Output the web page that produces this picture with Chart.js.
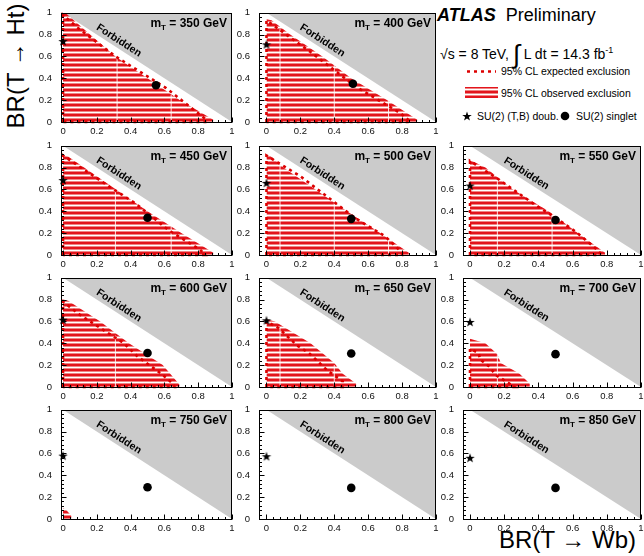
<!DOCTYPE html>
<html>
<head>
<meta charset="utf-8">
<script src="https://cdn.jsdelivr.net/npm/chart.js@4.4.0/dist/chart.umd.min.js"></script>
<style>
body { margin:0; background:#fff; width:644px; height:556px; overflow:hidden; position:relative; font-family:"Liberation Sans", Arial, sans-serif; }
canvas.panel { position:absolute; }
.t { position:absolute; white-space:nowrap; color:#000; line-height:1; }
</style>
</head>
<body>
<div class="t" style="left:16px;top:66px;font-size:24px;transform:translate(-50%,-50%) rotate(-90deg)">BR(T &#8594; Ht)</div>
<div class="t" style="left:636px;top:540px;font-size:24px;transform:translate(-100%,-50%)">BR(T &#8594; Wb)</div>

<div class="t" style="left:437px;top:6px;font-size:18px"><b><i>ATLAS</i></b>&nbsp; Preliminary</div>
<div class="t" style="left:440px;top:37px;font-size:14px">&#8730;s = 8 TeV, <span style="font-size:26px;position:relative;top:4px">&#8747;</span> L dt = 14.3 fb<sup style="font-size:9px">-1</sup></div>
<div class="t" style="left:501px;top:66px;font-size:10.5px">95% CL expected exclusion</div>
<div class="t" style="left:501px;top:88px;font-size:10.5px">95% CL observed exclusion</div>
<div class="t" style="left:477px;top:111px;font-size:10.5px">SU(2) (T,B) doub.</div>
<div class="t" style="left:576px;top:111px;font-size:10.5px">SU(2) singlet</div>
<canvas id="leg" width="180" height="130" style="position:absolute;left:440px;top:0px"></canvas>

<script>
// masses and benchmark points
const masses = [350, 400, 450, 500, 550, 600, 650, 700, 750, 800, 850];
const doubletY = [0.74, 0.71, 0.685, 0.66, 0.635, 0.615, 0.61, 0.595, 0.58, 0.574, 0.56];
const singletX = [0.55, 0.51, 0.5, 0.5, 0.5, 0.5, 0.5, 0.5, 0.5, 0.5, 0.5];
const singletY = [0.336, 0.35, 0.34, 0.33, 0.32, 0.31, 0.306, 0.30, 0.29, 0.284, 0.284];

// observed exclusion edge, from top of x=0 down to y=0
const obs350 = [[0,0.99],[0.02,0.99],[0.16,0.8],[0.31,0.6],[0.5,0.4],[0.69,0.2],[0.89,0.02],[0.89,0]];
const obs400 = [[0,0.94],[0.03,0.93],[0.14,0.8],[0.33,0.6],[0.5,0.4],[0.71,0.2],[0.89,0.02],[0.89,0]];
const obs450 = [[0,0.91],[0.03,0.9],[0.2,0.72],[0.5,0.4],[0.7,0.2],[0.89,0.02],[0.89,0]];
const obs500 = [[0,0.92],[0.02,0.91],[0.1,0.8],[0.475,0.4],[0.67,0.2],[0.84,0.02],[0.84,0]];
const obs550 = [[0,0.87],[0.09,0.8],[0.25,0.6],[0.46,0.4],[0.63,0.2],[0.79,0.02],[0.79,0]];
const obs600 = [[0,0.8],[0.03,0.79],[0.22,0.6],[0.39,0.4],[0.59,0.2],[0.69,0.02],[0.69,0]];
const obs650 = [[0,0.62],[0.05,0.6],[0.26,0.4],[0.4,0.22],[0.45,0.12],[0.53,0.03],[0.53,0]];
const obs700 = [[0,0.44],[0.09,0.4],[0.16,0.3],[0.18,0.22],[0.29,0.12],[0.35,0.03],[0.35,0]];
const obs750 = [[0,0.1],[0.02,0.08],[0.05,0.03],[0.05,0]];

// expected exclusion contour (closed)
const exp350 = [[0,0],[0,0.98],[0.08,0.87],[0.31,0.6],[0.61,0.31],[0.84,0.03],[0.85,0],[0,0]];
const exp400 = [[0,0],[0,0.93],[0.26,0.64],[0.53,0.32],[0.79,0.08],[0.85,0],[0,0]];
const exp450 = [[0,0],[0,0.91],[0.26,0.64],[0.43,0.47],[0.63,0.22],[0.81,0.05],[0.84,0],[0,0]];
const exp500 = [[0,0],[0,0.91],[0.2,0.72],[0.42,0.46],[0.53,0.33],[0.7,0.17],[0.8,0.02],[0.8,0],[0,0]];
const exp550 = [[0,0],[0,0.86],[0.02,0.84],[0.16,0.7],[0.37,0.47],[0.5,0.34],[0.62,0.21],[0.72,0.08],[0.76,0.02],[0.76,0],[0,0]];
const exp600 = [[0,0],[0,0.78],[0.1,0.66],[0.22,0.54],[0.36,0.4],[0.44,0.28],[0.59,0.11],[0.65,0.03],[0.66,0],[0,0]];
const exp650 = [[0,0],[0,0.6],[0.07,0.54],[0.18,0.38],[0.25,0.31],[0.36,0.15],[0.45,0.05],[0.45,0],[0,0]];
const exp700 = [[0,0],[0,0.35],[0.05,0.31],[0.06,0.25],[0.11,0.19],[0.15,0.11],[0.22,0.04],[0.26,0],[0,0]];

// white seams inside the hatched area: [x, top]
const seam350 = [[0.32,0.59],[0.64,0.25]];
const seam400 = [[0.08,0.85],[0.4,0.52],[0.72,0.19]];
const seam450 = [[0.31,0.6],[0.64,0.26]];
const seam500 = [[0.08,0.84],[0.4,0.48],[0.72,0.14]];
const seam550 = [[0.16,0.68],[0.48,0.37]];
const seam600 = [[0.31,0.47]];
const seam650 = [[0.08,0.54],[0.4,0.2]];
const seam700 = [[0.16,0.3]];

const observed = [obs350, obs400, obs450, obs500, obs550, obs600, obs650, obs700, obs750, [], []];
const expected = [exp350, exp400, exp450, exp500, exp550, exp600, exp650, exp700, [], [], []];
const seams = [seam350, seam400, seam450, seam500, seam550, seam600, seam650, seam700, [], [], []];

const tickVals = [0, 0.2, 0.4, 0.6, 0.8, 1];
const minorVals = [0.04,0.08,0.12,0.16,0.24,0.28,0.32,0.36,0.44,0.48,0.52,0.56,0.64,0.68,0.72,0.76,0.84,0.88,0.92,0.96];

// layout
const grid = [[0,0],[0,1],[1,0],[1,1],[1,2],[2,0],[2,1],[2,2],[3,0],[3,1],[3,2]];
const colLeft = [61, 259, 463];
const colW = [171, 177, 178];
const colXmin = [-0.012, -0.044, -0.041];
const rowTop = [6, 139, 271, 403];
const areaH = 117;
const padL = 34, padT = 8, padR = 6, padB = 16;

const RED = '#dd0000';
const GRAY = '#cbcbcb';
const FONT = '"Liberation Sans", Arial, sans-serif';

function hatch() {
    const c = document.createElement('canvas');
    c.width = 4; c.height = 5;
    const g = c.getContext('2d');
    g.fillStyle = '#ef8585'; g.fillRect(0, 0, 4, 5);
    g.fillStyle = '#e3141c'; g.fillRect(0, 1, 4, 2);
    g.fillStyle = '#ffffff'; g.fillRect(0, 4, 4, 1);
    return g.createPattern(c, 'repeat');
}

function starImg(r) {
    const s = Math.ceil(r * 2 + 2);
    const c = document.createElement('canvas');
    c.width = s; c.height = s;
    const g = c.getContext('2d');
    g.translate(s / 2, s / 2 + 0.5);
    g.beginPath();
    for (let i = 0; i < 10; i++) {
        const rr = i % 2 ? r * 0.4 : r;
        const a = -Math.PI / 2 + i * Math.PI / 5;
        g.lineTo(rr * Math.cos(a), rr * Math.sin(a));
    }
    g.closePath();
    g.fillStyle = '#000';
    g.fill();
    return c;
}
const STAR = starImg(5);

const pts = arr => arr.map(p => ({x: p[0], y: p[1]}));

const decor = {
    id: 'decor',
    afterDraw(chart, args, opts) {
        const {ctx, chartArea: a, scales: {x, y}} = chart;
        ctx.save();
        // Forbidden label along the diagonal
        const ang = Math.atan2(y.getPixelForValue(0) - y.getPixelForValue(1), x.getPixelForValue(1) - x.getPixelForValue(0));
        ctx.translate(x.getPixelForValue(0.33), y.getPixelForValue(0.745));
        ctx.rotate(ang);
        ctx.font = 'bold 10.5px ' + FONT;
        ctx.fillStyle = '#000';
        ctx.textAlign = 'center';
        ctx.textBaseline = 'middle';
        ctx.fillText('Forbidden', 0, 0);
        ctx.restore();

        // mass title
        ctx.save();
        ctx.fillStyle = '#000';
        ctx.textBaseline = 'alphabetic';
        const big = 'bold 12px ' + FONT, small = 'bold 8px ' + FONT;
        const rest = ' = ' + opts.mass + ' GeV';
        ctx.font = big; const w1 = ctx.measureText('m').width, w3 = ctx.measureText(rest).width;
        ctx.font = small; const w2 = ctx.measureText('T').width;
        let px = a.right - 5 - (w1 + w2 + w3);
        const base = a.top + 14;
        ctx.font = big; ctx.fillText('m', px, base); px += w1;
        ctx.font = small; ctx.fillText('T', px, base + 3); px += w2;
        ctx.font = big; ctx.fillText(rest, px, base);

        // frame and inner ticks
        ctx.strokeStyle = '#000';
        ctx.lineWidth = 1;
        ctx.beginPath();
        const L = Math.round(a.left) + 0.5, B = Math.round(a.bottom) - 0.5;
        tickVals.concat(minorVals).forEach(v => {
            const len = tickVals.includes(v) ? 5 : 2.5;
            const tx = Math.round(x.getPixelForValue(v)) + 0.5;
            ctx.moveTo(tx, B); ctx.lineTo(tx, B - len);
            const ty = Math.round(y.getPixelForValue(v)) + 0.5;
            ctx.moveTo(L, ty); ctx.lineTo(L + len, ty);
        });
        ctx.stroke();
        ctx.strokeRect(L, Math.round(a.top) + 0.5, Math.round(a.right) - L - 0.5, B - Math.round(a.top) - 0.5);
        ctx.restore();
    }
};

const pattern = hatch();

masses.forEach((m, i) => {
    const [r, c] = grid[i];
    const W = padL + colW[c] + padR, H = padT + areaH + padB;
    const cv = document.createElement('canvas');
    cv.className = 'panel';
    cv.width = W; cv.height = H;
    cv.style.left = (colLeft[c] - padL) + 'px';
    cv.style.top = (rowTop[r] - padT) + 'px';
    document.body.appendChild(cv);

    const datasets = [
        { label: 'doublet', data: [{x: 0, y: doubletY[i]}], showLine: false, pointStyle: STAR, pointRadius: 5, clip: false, order: 1 },
        { label: 'singlet', data: [{x: singletX[i], y: singletY[i]}], showLine: false, pointStyle: 'circle', pointRadius: 4.3, backgroundColor: '#000', borderColor: '#000', borderWidth: 0, clip: false, order: 1 },
        { label: 'expected', data: pts(expected[i]), borderColor: RED, borderWidth: 2.6, borderDash: [3, 4], pointRadius: 0, fill: false, clip: false, order: 2 },
        { label: 'forbidden', data: [{x: 0, y: 1}, {x: 1, y: 0}], borderColor: GRAY, borderWidth: 0, pointRadius: 0, fill: 'end', backgroundColor: GRAY, order: 6 },
        { label: 'observed', data: pts(observed[i]), borderWidth: 0, borderColor: 'rgba(0,0,0,0)', pointRadius: 0, fill: 'origin', backgroundColor: pattern, order: 5 }
    ];
    seams[i].forEach(s => datasets.push({ label: 'seam', data: [{x: s[0], y: 0}, {x: s[0], y: s[1]}], borderColor: 'rgba(255,255,255,0.85)', borderWidth: 1, pointRadius: 0, fill: false, order: 3 }));

    const tickFont = { family: FONT, size: 9.5 };
    new Chart(cv, {
        type: 'line',
        data: { datasets },
        options: {
            responsive: false, animation: false, events: [],
            layout: { padding: { top: padT, right: padR, left: 0, bottom: 0 } },
            plugins: { legend: { display: false }, tooltip: { enabled: false }, decor: { mass: m } },
            scales: {
                x: {
                    type: 'linear', min: colXmin[c], max: 1,
                    grid: { display: false, drawTicks: false }, border: { display: false },
                    afterBuildTicks: s => { s.ticks = tickVals.map(v => ({value: v})); },
                    afterFit: s => { s.height = padB; },
                    ticks: { font: tickFont, color: '#111', padding: 3, maxRotation: 0, autoSkip: false, callback: v => String(Math.round(v * 10) / 10) }
                },
                y: {
                    type: 'linear', min: -0.01, max: 1,
                    grid: { display: false, drawTicks: false }, border: { display: false },
                    afterBuildTicks: s => { s.ticks = tickVals.map(v => ({value: v})); },
                    afterFit: s => { s.width = padL; },
                    ticks: { font: tickFont, color: '#111', padding: 9, autoSkip: false, callback: v => String(Math.round(v * 10) / 10) }
                }
            }
        },
        plugins: [decor]
    });
});

// legend samples
const lg = document.getElementById('leg').getContext('2d');
lg.strokeStyle = RED; lg.lineWidth = 2.6; lg.setLineDash([3, 4]);
lg.beginPath(); lg.moveTo(27, 71.5); lg.lineTo(56, 71.5); lg.stroke();
lg.setLineDash([]);
lg.fillStyle = pattern; lg.fillRect(25, 87, 33, 11);
lg.drawImage(STAR, 21, 110);
lg.fillStyle = '#000';
lg.beginPath(); lg.arc(125, 116, 4.3, 0, Math.PI * 2); lg.fill();
</script>
</body>
</html>
